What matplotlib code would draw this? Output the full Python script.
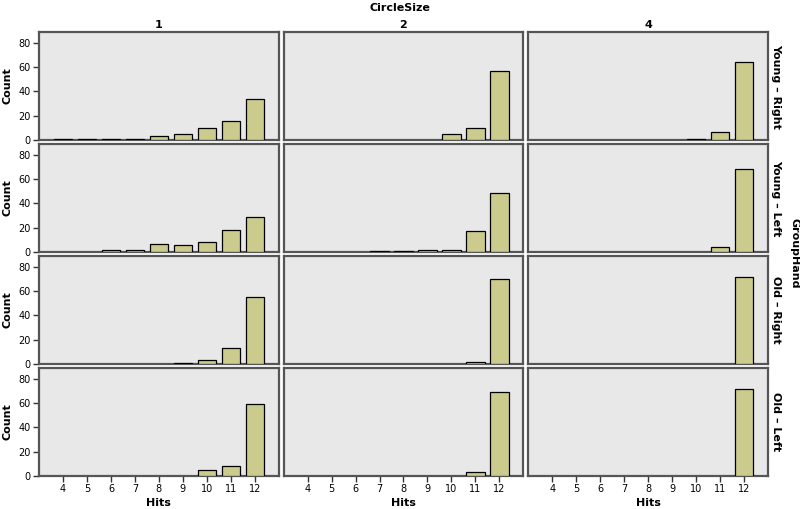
import matplotlib.pyplot as plt
import numpy as np

# Hits histogram, faceted by GroupHand (rows) x CircleSize (columns)
hits = [4, 5, 6, 7, 8, 9, 10, 11, 12]
circle_sizes = ["1", "2", "4"]
group_hands = ["Young \u2013 Right", "Young \u2013 Left", "Old \u2013 Right", "Old \u2013 Left"]

young_right = [
    [1, 1, 1, 1, 3, 5, 10, 16, 34],
    [0, 0, 0, 0, 0, 0, 5, 10, 57],
    [0, 0, 0, 0, 0, 0, 1, 7, 64],
]
young_left = [
    [0, 0, 2, 2, 7, 6, 8, 18, 29],
    [0, 0, 0, 1, 1, 2, 2, 17, 49],
    [0, 0, 0, 0, 0, 0, 0, 4, 68],
]
old_right = [
    [0, 0, 0, 0, 0, 1, 3, 13, 55],
    [0, 0, 0, 0, 0, 0, 0, 2, 70],
    [0, 0, 0, 0, 0, 0, 0, 0, 72],
]
old_left = [
    [0, 0, 0, 0, 0, 0, 5, 8, 59],
    [0, 0, 0, 0, 0, 0, 0, 3, 69],
    [0, 0, 0, 0, 0, 0, 0, 0, 72],
]
counts = [young_right, young_left, old_right, old_left]

BAR_COLOR = "#cccb8e"
PANEL_BG = "#e8e8e8"
FRAME = "#555555"

plt.rcParams["font.family"] = ["DejaVu Sans"]

fig, axes = plt.subplots(4, 3, figsize=(8.0, 5.09), dpi=100, sharex=True, sharey=True)
fig.subplots_adjust(left=39 / 800, right=768 / 800, top=1 - 32 / 509, bottom=1 - 476 / 509,
                    wspace=0.02, hspace=0.037)

for r, row in enumerate(counts):
    for c, vals in enumerate(row):
        ax = axes[r, c]
        ax.set_facecolor(PANEL_BG)
        x = np.array(hits)
        v = np.array(vals)
        mask = v > 0
        ax.bar(x[mask], v[mask], width=0.76, color=BAR_COLOR, edgecolor="black", linewidth=0.9, zorder=3)
        ax.set_xlim(3, 13)
        ax.set_ylim(0, 89)
        for s in ax.spines.values():
            s.set_color(FRAME)
            s.set_linewidth(1.6)
        ax.tick_params(axis="both", labelsize=7, length=4, width=1, color="#333333", pad=2)
        ax.set_xticks(hits)
        ax.set_yticks([0, 20, 40, 60, 80])
        if c == 0:
            ax.set_ylabel("Count", fontsize=8, fontweight="bold", labelpad=4)
        else:
            ax.tick_params(axis="y", left=False, labelleft=False)
        if r == 3:
            ax.set_xlabel("Hits", fontsize=8, fontweight="bold", labelpad=3)
        else:
            ax.tick_params(axis="x", bottom=False, labelbottom=False)
        if r == 0:
            ax.set_title(circle_sizes[c], fontsize=8, fontweight="bold", pad=3)
        if c == 2:
            ax.text(1.012, 0.5, group_hands[r], transform=ax.transAxes, rotation=-90,
                    ha="left", va="center", fontsize=8, fontweight="bold")

fig.text(0.5, 1 - 8 / 509, "CircleSize", ha="center", va="center", fontsize=8, fontweight="bold")
fig.text(1 - 6 / 800, 1 - 253 / 509, "GroupHand", ha="center", va="center", rotation=-90,
         fontsize=8, fontweight="bold")

fig.savefig("out.png", dpi=100)
